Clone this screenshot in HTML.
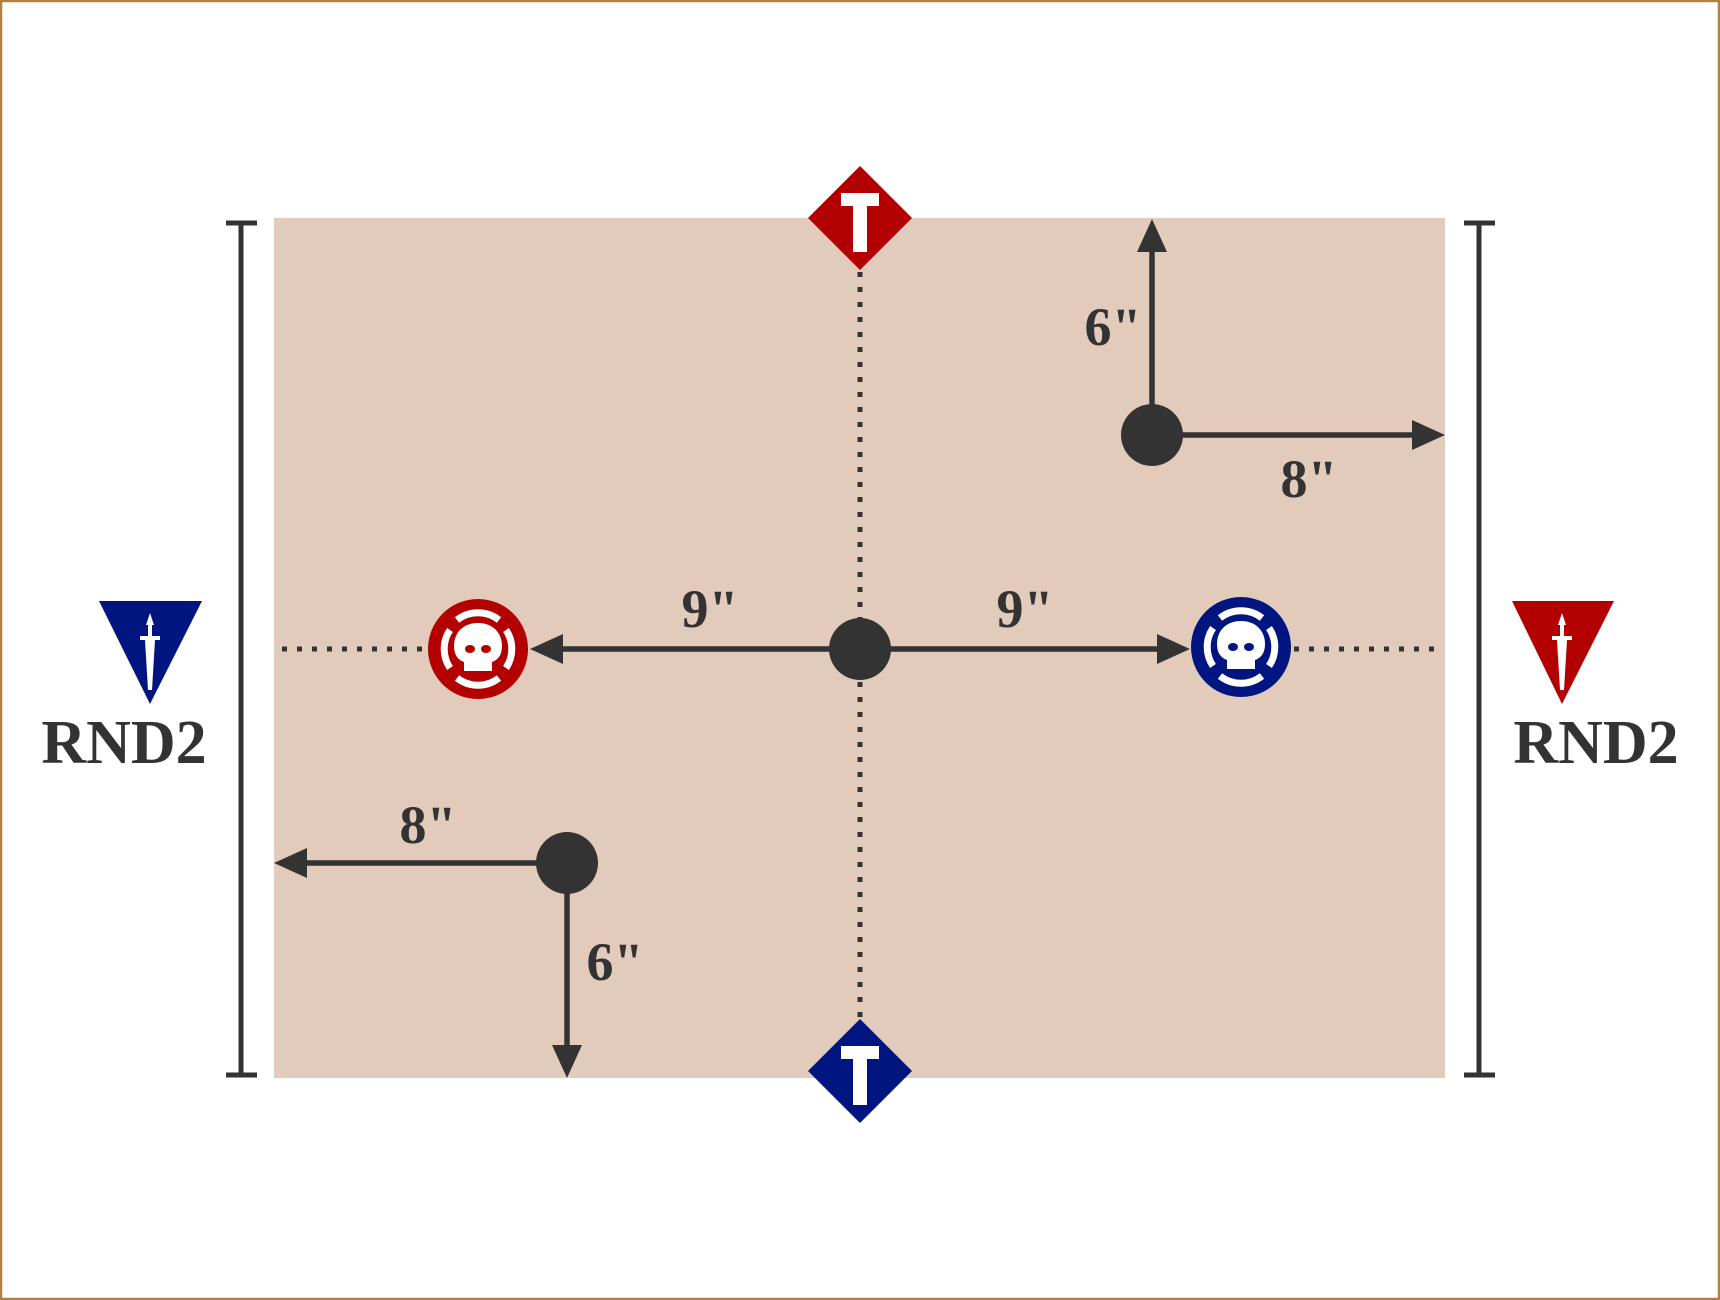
<!DOCTYPE html>
<html><head><meta charset="utf-8"><style>html,body{margin:0;padding:0;background:#fff}svg{display:block}</style></head><body>
<svg width="1720" height="1300" viewBox="0 0 1720 1300" xmlns="http://www.w3.org/2000/svg">
<rect x="1" y="1" width="1718" height="1298" fill="#fff" stroke="#b5803a" stroke-width="2.5"/>
<rect x="274" y="218" width="1171" height="860" fill="#e3cbbb"/>
<g stroke="#333" stroke-width="5" fill="none">
<line x1="241" y1="223" x2="241" y2="1075"/><line x1="226" y1="223" x2="257" y2="223"/><line x1="226" y1="1075" x2="257" y2="1075"/>
<line x1="1479" y1="223" x2="1479" y2="1075"/><line x1="1464" y1="223" x2="1495" y2="223"/><line x1="1464" y1="1075" x2="1495" y2="1075"/>
</g>
<g stroke="#333" stroke-width="5" stroke-dasharray="5,10" fill="none">
<line x1="860" y1="272" x2="860" y2="620"/><line x1="860" y1="682" x2="860" y2="1020"/>
<line x1="282" y1="649" x2="428" y2="649"/><line x1="1294" y1="649" x2="1440" y2="649"/>
</g>
<g stroke="#333" stroke-width="5.5">
<line x1="860" y1="649" x2="560" y2="649"/><line x1="860" y1="649" x2="1160" y2="649"/>
<line x1="1152" y1="435" x2="1152" y2="250"/><line x1="1152" y1="435" x2="1415" y2="435"/>
<line x1="567" y1="863" x2="305" y2="863"/><line x1="567" y1="863" x2="567" y2="1048"/>
</g>
<g fill="#333">
<polygon points="530,649 563,634 563,664"/><polygon points="1190,649 1157,634 1157,664"/>
<polygon points="1152,219 1137,252 1167,252"/><polygon points="1445,435 1412,420 1412,450"/>
<polygon points="274,863 307,848 307,878"/><polygon points="567,1078 552,1045 582,1045"/>
<circle cx="860" cy="649" r="31"/><circle cx="1152" cy="435" r="31"/><circle cx="567" cy="863" r="31"/>
</g>
<g>
<polygon points="860,166 912,218 860,270 808,218" fill="#b30000"/>
<rect x="841" y="193" width="38" height="13" fill="#fff"/><rect x="853" y="204" width="14" height="48" fill="#fff"/>
<polygon points="860,1019 912,1071 860,1123 808,1071" fill="#001580"/>
<rect x="841" y="1046" width="38" height="13" fill="#fff"/><rect x="853" y="1057" width="14" height="48" fill="#fff"/>
</g>
<g>
<circle cx="478" cy="649" r="50" fill="#b30000"/>
<g fill="none" stroke="#fff" stroke-width="7">
<path d="M457 620 A34 34 0 0 1 499 620"/><path d="M457 678 A34 34 0 0 0 499 678"/>
<path d="M450 630 A34 34 0 0 0 450 668"/><path d="M506 630 A34 34 0 0 1 506 668"/>
</g>
<path d="M478 623 c-15 0 -24 10 -24 23 c0 9 4 14 10 16 v9 h28 v-9 c6 -2 10 -7 10 -16 c0 -13 -9 -23 -24 -23z" fill="#fff"/>
<ellipse cx="470" cy="649" rx="5" ry="4" fill="#b30000"/><ellipse cx="486" cy="649" rx="5" ry="4" fill="#b30000"/>
</g>
<g>
<circle cx="1241" cy="647" r="50" fill="#001580"/>
<g fill="none" stroke="#fff" stroke-width="7">
<path d="M1220 618 A34 34 0 0 1 1262 618"/><path d="M1220 676 A34 34 0 0 0 1262 676"/>
<path d="M1213 628 A34 34 0 0 0 1213 666"/><path d="M1269 628 A34 34 0 0 1 1269 666"/>
</g>
<path d="M1241 621 c-15 0 -24 10 -24 23 c0 9 4 14 10 16 v9 h28 v-9 c6 -2 10 -7 10 -16 c0 -13 -9 -23 -24 -23z" fill="#fff"/>
<ellipse cx="1233" cy="647" rx="5" ry="4" fill="#001580"/><ellipse cx="1249" cy="647" rx="5" ry="4" fill="#001580"/>
</g>
<polygon points="99,601 202,601 150,704" fill="#001580"/>
<g fill="#fff"><polygon points="150,613 146,625 154,625"/><rect x="148" y="624" width="4" height="14"/><rect x="140" y="636" width="20" height="4"/><polygon points="145,640 155,640 152,690 148,690"/></g>
<polygon points="1512,601 1614,601 1562,704" fill="#b30000"/>
<g fill="#fff"><polygon points="1562,613 1558,625 1566,625"/><rect x="1560" y="624" width="4" height="14"/><rect x="1552" y="636" width="20" height="4"/><polygon points="1557,640 1567,640 1564,690 1560,690"/></g>
<g font-family="Liberation Serif, serif" font-weight="bold" fill="#333" text-anchor="middle">
<text x="124" y="763" font-size="62">RND2</text>
<text x="1596" y="763" font-size="62">RND2</text>
<g font-size="54">
<text x="710" y="627">9"</text><text x="1025" y="627">9"</text>
<text x="1113" y="345">6"</text><text x="1309" y="497">8"</text>
<text x="428" y="843">8"</text><text x="615" y="980">6"</text>
</g>
</g>
</svg>
</body></html>
